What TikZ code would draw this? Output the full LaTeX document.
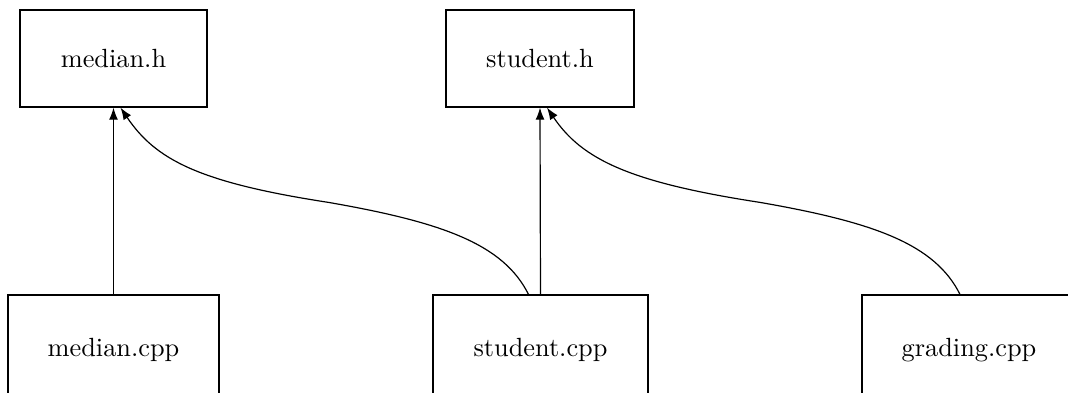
\documentclass[tikz,border=0pt]{standalone}
\usetikzlibrary{arrows.meta,calc}
\begin{document}
\begin{tikzpicture}[x=0.38pt,y=-0.38pt,
  filebox/.style={draw=black,line width=0.45pt,inner sep=0pt,minimum height=97*0.38pt},
  lowbox/.style={filebox,minimum height=110*0.38pt},
  dep/.style={-{Latex[length=4.6pt,width=3.4pt]},line width=0.45pt}]
\useasboundingbox (0,0) rectangle (1068,393);
\clip (0,0) rectangle (1068,393);
\node[filebox,minimum width=187*0.38pt] (mh) at (113.5,58.5) {median.h};
\node[filebox,minimum width=188*0.38pt] (sh) at (540,58.5) {student.h};
\node[lowbox,minimum width=211*0.38pt] (mc) at (113.5,350) {median.cpp};
\node[lowbox,minimum width=215*0.38pt] (sc) at (540.5,350) {student.cpp};
\node[lowbox,minimum width=214*0.38pt] (gc) at (969,350) {grading.cpp};
\draw[dep] (mc.north) -- (mh.south);
\draw[dep] (sc.north) -- (sh.south);
\coordinate (s1) at ($(sc.north)+(-12,0)$);
\coordinate (e1) at ($(mh.south)+(7,0)$);
\draw[dep] (s1) .. controls +(-25,-50) and +(115,20) .. ($(s1)+(-200,-92)$)
  .. controls +(-130,-20) and +(35,52) .. (e1);
\coordinate (s2) at ($(gc.north)+(-9,0)$);
\coordinate (e2) at ($(sh.south)+(7,0)$);
\draw[dep] (s2) .. controls +(-25,-50) and +(115,20) .. ($(s2)+(-200,-92)$)
  .. controls +(-130,-20) and +(35,52) .. (e2);
\end{tikzpicture}
\end{document}
